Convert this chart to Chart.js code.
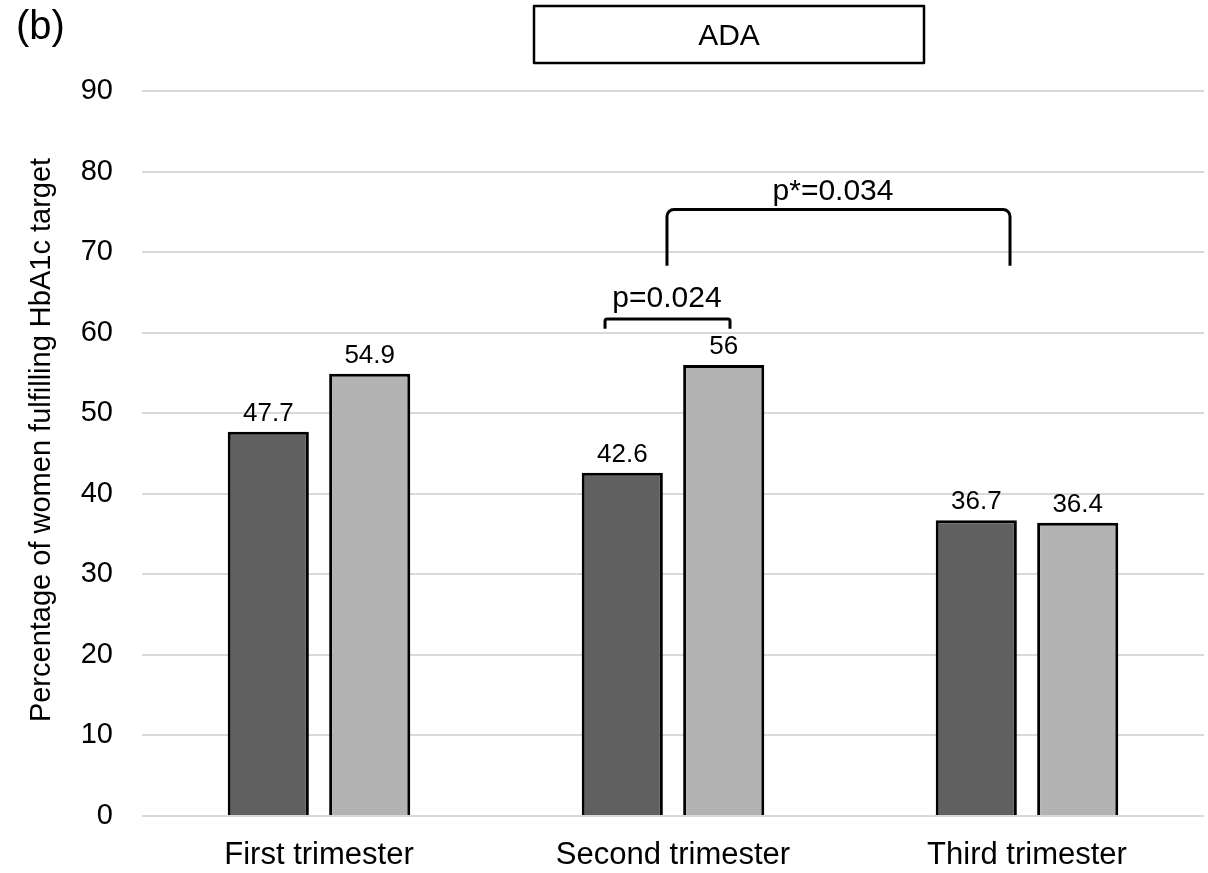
<!DOCTYPE html>
<html>
<head>
<meta charset="utf-8">
<script src="https://cdn.jsdelivr.net/npm/chart.js@4.4.1/dist/chart.umd.min.js"></script>
<style>
  body { margin: 0; background: #fff; }
  #wrap { width: 1208px; height: 873px; }
</style>
</head>
<body>
<div id="wrap"><canvas id="myChart"></canvas></div>
<script>
const FONT = "'Liberation Sans', Arial, sans-serif";

// data
const categories = ["First trimester", "Second trimester", "Third trimester"];
const seriesA = [47.7, 42.6, 36.7];
const seriesB = [54.9, 56, 36.4];
const yTicks = [0, 10, 20, 30, 40, 50, 60, 70, 80, 90];
const yTitle = "Percentage of women fulfilling HbA1c target";
const panelLabel = "(b)";
const boxTitle = "ADA";

// significance brackets (x in category units, y in data units)
const brackets = [
    { x1: 0.808, x2: 1.161, top: 61.7, end: 60.5, label: "p=0.024", lx: 0.983, ly: 63.2, r: 2 },
    { x1: 0.983, x2: 1.952, top: 75.3, end: 68.3, label: "p*=0.034", lx: 1.452, ly: 76.5, r: 7 }
];

// value labels + brackets + box
const annotate = {
    id: "annotate",
    afterDatasetsDraw(chart) {
        const ctx = chart.ctx;
        const xs = chart.scales.x, ys = chart.scales.y;
        ctx.save();
        ctx.fillStyle = "#000";
        ctx.textAlign = "center";
        ctx.textBaseline = "alphabetic";
        ctx.font = "26px " + FONT;
        chart.data.datasets.forEach((ds, i) => {
            chart.getDatasetMeta(i).data.forEach((bar, j) => {
                ctx.fillText(String(ds.data[j]), bar.x, bar.y - 11);
            });
        });

        ctx.strokeStyle = "#000";
        ctx.lineWidth = 3;
        ctx.lineJoin = "round";
        ctx.font = "30px " + FONT;
        for (const b of brackets) {
            const x1 = xs.getPixelForValue(b.x1), x2 = xs.getPixelForValue(b.x2);
            const yt = ys.getPixelForValue(b.top), ye = ys.getPixelForValue(b.end);
            ctx.beginPath();
            ctx.moveTo(x1, ye);
            ctx.arcTo(x1, yt, x2, yt, b.r);
            ctx.arcTo(x2, yt, x2, ye, b.r);
            ctx.lineTo(x2, ye);
            ctx.stroke();
            ctx.fillText(b.label, xs.getPixelForValue(b.lx), ys.getPixelForValue(b.ly));
        }

        // panel letter and ADA box
        ctx.textAlign = "left";
        ctx.font = "40px " + FONT;
        ctx.fillText(panelLabel, 16, 39);
        ctx.lineWidth = 2.5;
        ctx.strokeRect(534, 6, 390, 57);
        ctx.textAlign = "center";
        ctx.font = "30px " + FONT;
        ctx.fillText(boxTitle, 729, 45);

        // y axis title
        ctx.translate(42, 440);
        ctx.rotate(-Math.PI / 2);
        ctx.font = "29px " + FONT;
        ctx.textBaseline = "middle";
        ctx.fillText(yTitle, 0, 0);
        ctx.restore();
    }
};

const ctx = document.getElementById("myChart").getContext("2d");

const chart = new Chart(ctx, {
    type: "bar",
    data: {
        labels: categories,
        datasets: [
            { label: "A", data: seriesA, backgroundColor: "#606060", borderColor: "#000", borderWidth: 3 },
            { label: "B", data: seriesB, backgroundColor: "#b3b3b3", borderColor: "#000", borderWidth: 3 }
        ]
    },
    options: {
        responsive: true,
        maintainAspectRatio: false,
        animation: false,
        categoryPercentage: 0.573,
        barPercentage: 0.8,
        layout: { padding: { top: 91, right: 4, left: 0, bottom: 0 } },
        plugins: { legend: { display: false }, tooltip: { enabled: false } },
        scales: {
            x: {
                grid: { display: false },
                border: { display: false },
                ticks: { color: "#000", font: { family: FONT, size: 31 }, padding: 13 },
                afterFit(s) { s.height = 57; }
            },
            y: {
                min: 0,
                max: 90,
                afterBuildTicks(s) { s.ticks = yTicks.map(v => ({ value: v })); },
                grid: { color: "#d9d9d9", lineWidth: 2, drawTicks: false },
                border: { display: false },
                ticks: { color: "#000", font: { family: FONT, size: 29 }, padding: 29 },
                afterFit(s) { s.width = 142; }
            }
        }
    },
    plugins: [annotate]
});
</script>
</body>
</html>
